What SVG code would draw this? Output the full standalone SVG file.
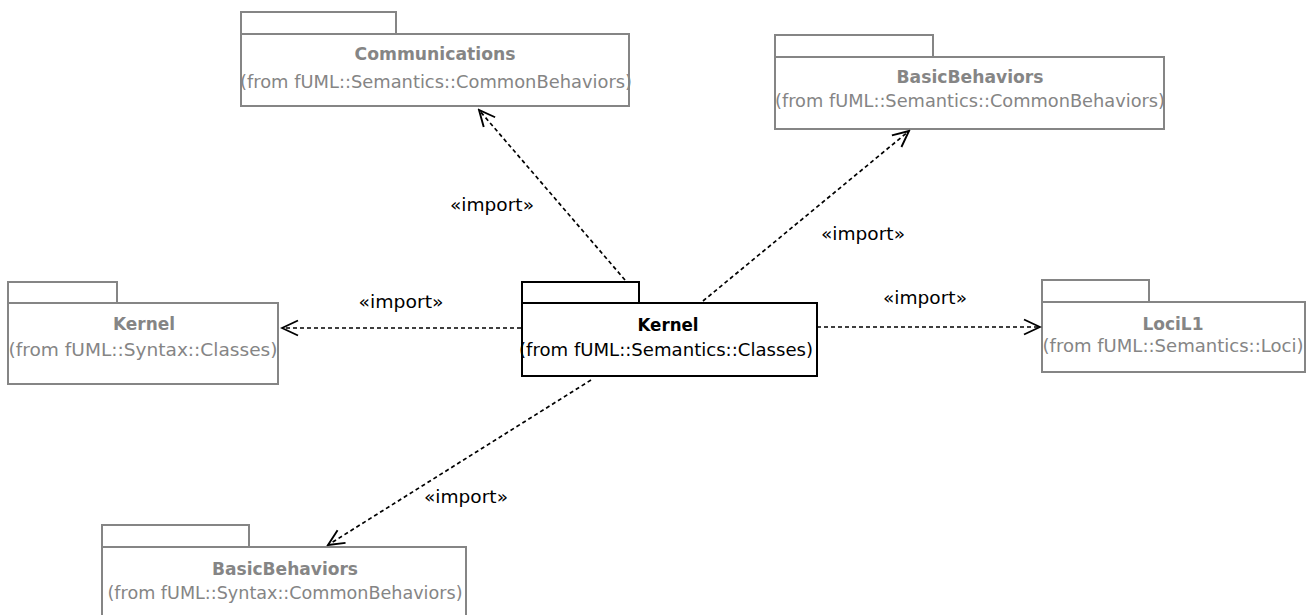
<svg xmlns="http://www.w3.org/2000/svg" width="1314" height="615" viewBox="0 0 1314 615">
<defs>
<style>
.pkg rect{fill:#fff;stroke:#858585;stroke-width:2}
.pkg text{fill:#858585}
.main rect{fill:#fff;stroke:#000;stroke-width:2}
.main text{fill:#000}
text{font-family:"DejaVu Sans","Liberation Sans",sans-serif;font-size:18.5px;text-anchor:middle}
.b{font-weight:bold}
.conn line{stroke:#000;stroke-width:1.7;stroke-dasharray:4 3;fill:none}
.lbl{fill:#000}
</style>
<marker id="arr" markerUnits="userSpaceOnUse" viewBox="-1 -1 19 18" markerWidth="19" markerHeight="18" refX="16" refY="8" orient="auto">
<path d="M0,0.5 L16,8 L0,15.5" fill="none" stroke="#000" stroke-width="1.9" stroke-dasharray="none"/>
</marker>
</defs>
<rect width="1314" height="615" fill="#fff"/>

<g id="comm" class="pkg">
<rect x="241" y="12" width="155" height="22"/>
<rect x="241" y="34" width="388" height="72"/>
<text class="b" x="435" y="60" textLength="161" lengthAdjust="spacingAndGlyphs">Communications</text>
<text x="436" y="88" textLength="392" lengthAdjust="spacingAndGlyphs">(from fUML::Semantics::CommonBehaviors)</text>
</g>

<g id="basicSem" class="pkg">
<rect x="775" y="35" width="158" height="22"/>
<rect x="775" y="57" width="389" height="72"/>
<text class="b" x="970" y="83" textLength="147" lengthAdjust="spacingAndGlyphs">BasicBehaviors</text>
<text x="970" y="107" textLength="390" lengthAdjust="spacingAndGlyphs">(from fUML::Semantics::CommonBehaviors)</text>
</g>

<g id="kernelSyn" class="pkg">
<rect x="8" y="282" width="109" height="21"/>
<rect x="8" y="303" width="270" height="81"/>
<text class="b" x="144" y="330" textLength="62" lengthAdjust="spacingAndGlyphs">Kernel</text>
<text x="143" y="356" textLength="269" lengthAdjust="spacingAndGlyphs">(from fUML::Syntax::Classes)</text>
</g>

<g id="kernelSem" class="main">
<rect x="522" y="282" width="117" height="21"/>
<rect x="522" y="303" width="295" height="73"/>
<text class="b" x="668" y="331" textLength="61" lengthAdjust="spacingAndGlyphs">Kernel</text>
<text x="666" y="356" textLength="294" lengthAdjust="spacingAndGlyphs">(from fUML::Semantics::Classes)</text>
</g>

<g id="loci" class="pkg">
<rect x="1042" y="280" width="107" height="22"/>
<rect x="1042" y="302" width="263" height="70"/>
<text class="b" x="1173" y="330" textLength="61" lengthAdjust="spacingAndGlyphs">LociL1</text>
<text x="1173" y="352" textLength="261" lengthAdjust="spacingAndGlyphs">(from fUML::Semantics::Loci)</text>
</g>

<g id="basicSyn" class="pkg">
<rect x="102" y="525" width="147" height="22"/>
<rect x="102" y="547" width="364" height="80"/>
<text class="b" x="285" y="575" textLength="146" lengthAdjust="spacingAndGlyphs">BasicBehaviors</text>
<text x="285" y="599" textLength="355" lengthAdjust="spacingAndGlyphs">(from fUML::Syntax::CommonBehaviors)</text>
</g>

<g id="connectors" class="conn">
<line x1="625" y1="280" x2="479" y2="110" marker-end="url(#arr)"/>
<line x1="703" y1="301" x2="909" y2="131" marker-end="url(#arr)"/>
<line x1="521" y1="328" x2="282" y2="328" marker-end="url(#arr)"/>
<line x1="817" y1="327" x2="1040" y2="327" marker-end="url(#arr)"/>
<line x1="591" y1="380" x2="328" y2="545" marker-end="url(#arr)"/>
<text class="lbl" x="492" y="211" textLength="84" lengthAdjust="spacingAndGlyphs">«import»</text>
<text class="lbl" x="863" y="240" textLength="84" lengthAdjust="spacingAndGlyphs">«import»</text>
<text class="lbl" x="401" y="308" textLength="85" lengthAdjust="spacingAndGlyphs">«import»</text>
<text class="lbl" x="925" y="304" textLength="84" lengthAdjust="spacingAndGlyphs">«import»</text>
<text class="lbl" x="466" y="503" textLength="84" lengthAdjust="spacingAndGlyphs">«import»</text>
</g>
</svg>
